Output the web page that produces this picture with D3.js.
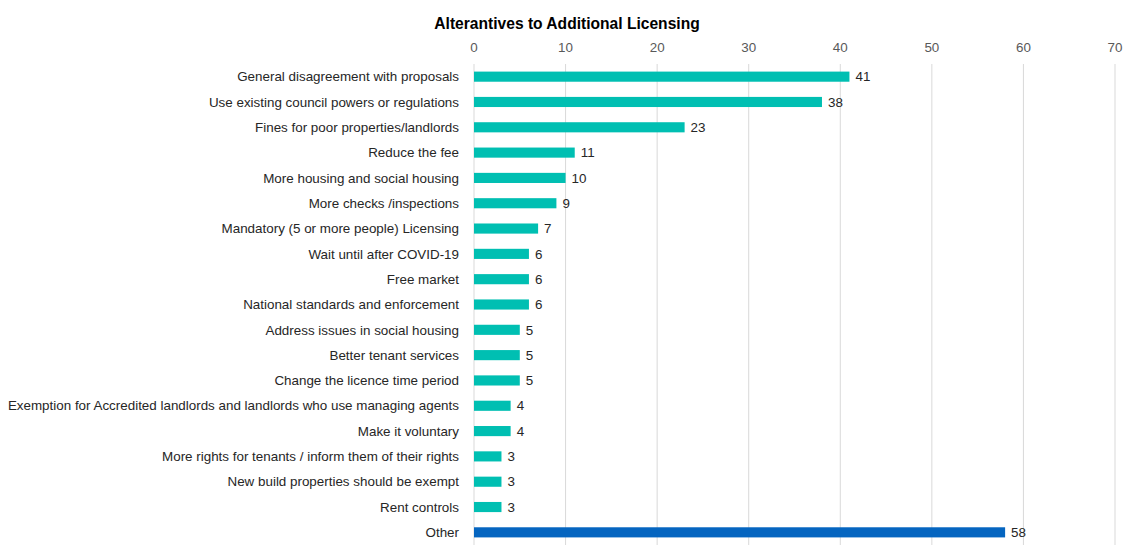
<!DOCTYPE html>
<html><head><meta charset="utf-8">
<script src="https://cdn.jsdelivr.net/npm/d3@7"></script>
<style>body{margin:0;background:#fff;}svg{display:block;font-family:"Liberation Sans",Arial,sans-serif;}</style>
</head><body>
<svg id="c" width="1129" height="551"></svg>
<script>
const categories = ["General disagreement with proposals","Use existing council powers or regulations","Fines for poor properties/landlords","Reduce the fee","More housing and social housing","More checks /inspections","Mandatory (5 or more people) Licensing","Wait until after COVID-19","Free market","National standards and enforcement","Address issues in social housing","Better tenant services","Change the licence time period","Exemption for Accredited landlords and landlords who use managing agents","Make it voluntary","More rights for tenants / inform them of their rights","New build properties should be exempt","Rent controls","Other"];
const values = [41,38,23,11,10,9,7,6,6,6,5,5,5,4,4,3,3,3,58];
const tickValues = [0,10,20,30,40,50,60,70];
const title = "Alterantives to Additional Licensing";

const svg = d3.select("#c");
const x = d3.scaleLinear().domain([0,70]).range([474,1115]);
const y = d3.scaleBand().domain(categories).range([64,545]).paddingInner(0.6).paddingOuter(0.3);

svg.append("text").attr("x",567).attr("y",29).attr("text-anchor","middle")
  .attr("font-size",15.6).attr("font-weight","bold").attr("fill","#000").text(title);

svg.append("g").selectAll("line").data(tickValues).join("line")
  .attr("x1",d=>x(d)).attr("x2",d=>x(d)).attr("y1",64).attr("y2",545)
  .attr("stroke","#d9d9d9").attr("stroke-width",1);

svg.append("g").selectAll("text").data(tickValues).join("text")
  .attr("x",d=>x(d)).attr("y",52).attr("text-anchor","middle")
  .attr("font-size",13.4).attr("fill","#595959").text(d=>d);

svg.append("g").selectAll("rect").data(categories).join("rect")
  .attr("x",x(0)).attr("y",d=>y(d)).attr("height",y.bandwidth())
  .attr("width",(d,i)=>x(values[i])-x(0))
  .attr("fill",(d,i)=>d==="Other"?"#0565C0":"#00BFB2");

svg.append("g").selectAll("text").data(categories).join("text")
  .attr("x",459).attr("y",d=>y(d)+y.bandwidth()/2).attr("dy","0.35em")
  .attr("text-anchor","end").attr("font-size",13.4).attr("fill","#262626").text(d=>d);

svg.append("g").selectAll("text").data(categories).join("text")
  .attr("x",(d,i)=>x(values[i])+6).attr("y",d=>y(d)+y.bandwidth()/2).attr("dy","0.35em")
  .attr("font-size",13.4).attr("fill","#262626").text((d,i)=>values[i]);
</script>
</body></html>
